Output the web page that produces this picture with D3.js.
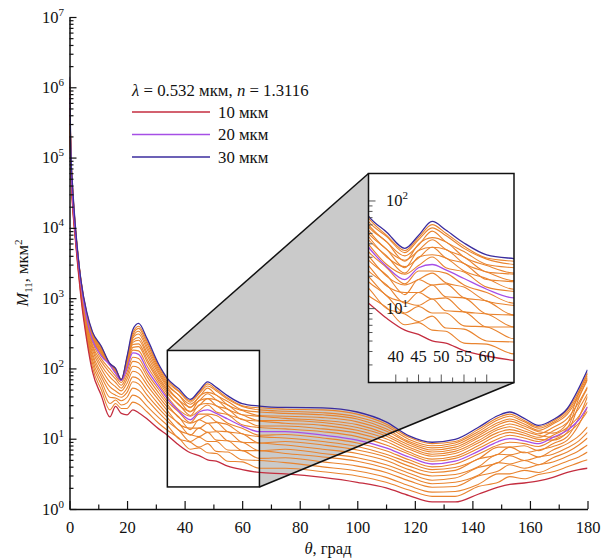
<!DOCTYPE html>
<html>
<meta charset="utf-8">
<script src="https://cdn.jsdelivr.net/npm/d3@7"></script>
<style>
    body {
        margin: 0;
        background: #fff;
    }

    svg text {
        font-family: 'Liberation Serif', serif;
        fill: #111;
    }
</style>

<body>
</body>
<script>
    // scattering angle grid, degrees
    const theta = [0, 0.5, 1, 2, 3, 4, 6, 8, 11, 14, 16, 18, 20, 22, 24, 27, 31, 34, 38, 42, 45, 48, 51, 55,
        60, 66, 75, 88, 100, 110, 118, 126, 134, 142, 149, 153, 158, 163, 168, 173, 177, 180];

    // log10 of M11 (mkm^2), one array per particle size
    const m10 = [5.3, 4.75, 4.35, 3.85, 3.4, 3.0, 2.4, 1.95, 1.62, 1.31, 1.46, 1.36, 1.34, 1.41, 1.37, 1.28, 1.14, 1.05, 0.91, 0.80, 0.76, 0.70, 0.68, 0.61, 0.56, 0.52, 0.50, 0.45, 0.38, 0.30, 0.19, 0.10, 0.10, 0.21, 0.31, 0.35, 0.37, 0.40, 0.45, 0.52, 0.56, 0.58];
    const m11 = [5.38, 4.78, 4.37, 3.86, 3.42, 3.03, 2.44, 2.01, 1.70, 1.41, 1.50, 1.43, 1.43, 1.52, 1.49, 1.38, 1.22, 1.12, 1.01, 0.85, 0.87, 0.80, 0.79, 0.68, 0.67, 0.58, 0.58, 0.53, 0.47, 0.38, 0.27, 0.18, 0.18, 0.32, 0.38, 0.46, 0.43, 0.49, 0.53, 0.60, 0.66, 0.70];
    const m12 = [5.44, 4.80, 4.39, 3.88, 3.44, 3.05, 2.48, 2.07, 1.77, 1.50, 1.55, 1.48, 1.51, 1.62, 1.59, 1.46, 1.30, 1.19, 1.00, 0.95, 0.88, 0.93, 0.82, 0.81, 0.70, 0.69, 0.66, 0.60, 0.54, 0.45, 0.33, 0.24, 0.25, 0.35, 0.50, 0.50, 0.55, 0.52, 0.60, 0.68, 0.74, 0.81];
    const m13 = [5.51, 4.83, 4.41, 3.89, 3.46, 3.08, 2.51, 2.12, 1.83, 1.59, 1.58, 1.54, 1.59, 1.72, 1.69, 1.55, 1.37, 1.25, 1.12, 0.96, 1.02, 0.96, 0.96, 0.84, 0.83, 0.72, 0.73, 0.67, 0.61, 0.52, 0.40, 0.31, 0.32, 0.47, 0.54, 0.63, 0.58, 0.63, 0.67, 0.75, 0.83, 0.91];
    const m14 = [5.57, 4.85, 4.42, 3.90, 3.47, 3.10, 2.55, 2.17, 1.89, 1.67, 1.62, 1.59, 1.66, 1.81, 1.78, 1.62, 1.43, 1.30, 1.12, 1.06, 1.03, 1.09, 0.98, 0.97, 0.83, 0.83, 0.79, 0.74, 0.68, 0.58, 0.46, 0.36, 0.38, 0.48, 0.66, 0.64, 0.69, 0.63, 0.73, 0.81, 0.91, 1.01];
    const m15 = [5.62, 4.87, 4.44, 3.91, 3.49, 3.12, 2.57, 2.21, 1.94, 1.74, 1.68, 1.63, 1.72, 1.88, 1.85, 1.69, 1.49, 1.35, 1.22, 1.05, 1.15, 1.09, 1.10, 0.97, 0.95, 0.83, 0.85, 0.79, 0.73, 0.63, 0.51, 0.41, 0.44, 0.59, 0.66, 0.76, 0.69, 0.74, 0.78, 0.87, 0.97, 1.09];
    const m16 = [5.67, 4.89, 4.45, 3.92, 3.50, 3.14, 2.60, 2.26, 2.00, 1.81, 1.74, 1.68, 1.79, 1.96, 1.93, 1.76, 1.55, 1.40, 1.21, 1.15, 1.15, 1.22, 1.11, 1.10, 0.95, 0.94, 0.91, 0.85, 0.79, 0.69, 0.56, 0.47, 0.49, 0.60, 0.78, 0.77, 0.81, 0.74, 0.84, 0.93, 1.04, 1.17];
    const m17 = [5.72, 4.90, 4.47, 3.93, 3.52, 3.15, 2.63, 2.30, 2.05, 1.88, 1.80, 1.72, 1.85, 2.03, 2.01, 1.82, 1.60, 1.45, 1.31, 1.13, 1.27, 1.22, 1.23, 1.10, 1.07, 0.94, 0.96, 0.91, 0.84, 0.74, 0.61, 0.52, 0.55, 0.71, 0.78, 0.88, 0.80, 0.84, 0.89, 0.98, 1.20, 1.45];
    const m18 = [5.77, 4.92, 4.48, 3.94, 3.53, 3.17, 2.66, 2.33, 2.10, 1.94, 1.85, 1.76, 1.90, 2.10, 2.08, 1.88, 1.65, 1.49, 1.30, 1.22, 1.27, 1.33, 1.24, 1.20, 1.07, 1.03, 1.01, 0.96, 0.89, 0.78, 0.66, 0.56, 0.59, 0.71, 0.88, 0.88, 0.90, 0.83, 0.93, 1.03, 1.30, 1.60];
    const m19 = [5.81, 4.94, 4.49, 3.94, 3.54, 3.19, 2.68, 2.37, 2.14, 1.99, 1.89, 1.80, 1.95, 2.16, 2.14, 1.93, 1.70, 1.53, 1.38, 1.23, 1.35, 1.35, 1.33, 1.22, 1.15, 1.05, 1.06, 1.01, 0.94, 0.83, 0.70, 0.60, 0.64, 0.78, 0.91, 0.95, 0.93, 0.89, 0.98, 1.08, 1.22, 1.39];
    const m20 = [5.85, 4.95, 4.5, 3.95, 3.55, 3.2, 2.7, 2.4, 2.18, 2.05, 1.93, 1.83, 2.0, 2.22, 2.2, 1.98, 1.74, 1.57, 1.39, 1.27, 1.38, 1.41, 1.36, 1.28, 1.18, 1.10, 1.10, 1.05, 0.98, 0.87, 0.74, 0.64, 0.68, 0.82, 0.96, 1.0, 0.97, 0.93, 1.02, 1.12, 1.27, 1.455];
    const m21 = [5.89, 4.96, 4.52, 3.96, 3.56, 3.21, 2.71, 2.41, 2.20, 2.05, 1.94, 1.83, 2.02, 2.26, 2.25, 2.03, 1.78, 1.60, 1.41, 1.32, 1.40, 1.48, 1.38, 1.34, 1.20, 1.16, 1.14, 1.10, 1.03, 0.91, 0.78, 0.68, 0.72, 0.86, 1.00, 1.05, 1.01, 0.96, 1.05, 1.16, 1.32, 1.52];
    const m22 = [5.92, 4.97, 4.54, 3.97, 3.56, 3.21, 2.72, 2.43, 2.21, 2.05, 1.95, 1.83, 2.04, 2.30, 2.31, 2.09, 1.82, 1.64, 1.49, 1.33, 1.48, 1.50, 1.47, 1.35, 1.28, 1.18, 1.18, 1.14, 1.08, 0.96, 0.81, 0.71, 0.75, 0.90, 1.05, 1.09, 1.05, 0.99, 0.98, 1.09, 1.48, 1.72];
    const m23 = [5.96, 4.99, 4.55, 3.99, 3.57, 3.22, 2.74, 2.44, 2.23, 2.06, 1.95, 1.83, 2.06, 2.34, 2.35, 2.13, 1.85, 1.67, 1.48, 1.39, 1.47, 1.57, 1.47, 1.42, 1.27, 1.25, 1.22, 1.19, 1.12, 1.00, 0.85, 0.75, 0.79, 0.94, 1.09, 1.13, 1.08, 1.02, 1.11, 1.23, 1.43, 1.64];
    const m24 = [5.99, 5.0, 4.57, 4.0, 3.57, 3.22, 2.75, 2.45, 2.24, 2.06, 1.96, 1.83, 2.08, 2.37, 2.40, 2.18, 1.88, 1.70, 1.55, 1.38, 1.54, 1.57, 1.55, 1.42, 1.34, 1.26, 1.26, 1.23, 1.16, 1.04, 0.88, 0.78, 0.82, 0.97, 1.13, 1.17, 1.11, 1.05, 1.02, 1.15, 1.58, 1.86];
    const m25 = [6.02, 5.0, 4.58, 4.0, 3.58, 3.23, 2.76, 2.47, 2.26, 2.06, 1.97, 1.84, 2.09, 2.40, 2.44, 2.22, 1.92, 1.73, 1.55, 1.45, 1.54, 1.64, 1.55, 1.48, 1.34, 1.32, 1.29, 1.26, 1.20, 1.07, 0.91, 0.81, 0.85, 1.01, 1.16, 1.21, 1.15, 1.07, 1.16, 1.29, 1.52, 1.74];
    const m26 = [6.05, 5.01, 4.60, 4.02, 3.58, 3.23, 2.77, 2.48, 2.27, 2.06, 1.98, 1.84, 2.11, 2.43, 2.49, 2.27, 1.95, 1.76, 1.62, 1.44, 1.60, 1.66, 1.62, 1.48, 1.40, 1.33, 1.32, 1.30, 1.24, 1.11, 0.94, 0.84, 0.88, 1.04, 1.20, 1.25, 1.18, 1.10, 1.08, 1.22, 1.66, 1.92];
    const m27 = [6.07, 5.02, 4.61, 4.02, 3.59, 3.24, 2.77, 2.49, 2.28, 2.06, 1.98, 1.84, 2.13, 2.45, 2.53, 2.31, 1.98, 1.78, 1.62, 1.49, 1.59, 1.72, 1.62, 1.53, 1.41, 1.38, 1.36, 1.34, 1.28, 1.14, 0.96, 0.87, 0.91, 1.07, 1.23, 1.28, 1.21, 1.12, 1.21, 1.35, 1.60, 1.84];
    const m28 = [6.10, 5.03, 4.62, 4.03, 3.59, 3.24, 2.78, 2.50, 2.30, 2.07, 1.99, 1.84, 2.15, 2.48, 2.57, 2.35, 2.01, 1.81, 1.67, 1.52, 1.64, 1.75, 1.68, 1.56, 1.46, 1.41, 1.39, 1.37, 1.31, 1.18, 0.99, 0.90, 0.94, 1.10, 1.27, 1.32, 1.24, 1.15, 1.23, 1.38, 1.64, 1.89];
    const m29 = [6.13, 5.04, 4.64, 4.04, 3.60, 3.25, 2.79, 2.51, 2.31, 2.07, 2.0, 1.84, 2.16, 2.51, 2.60, 2.38, 2.03, 1.84, 1.68, 1.54, 1.66, 1.78, 1.70, 1.58, 1.47, 1.44, 1.42, 1.41, 1.35, 1.21, 1.02, 0.93, 0.96, 1.13, 1.30, 1.35, 1.26, 1.17, 1.25, 1.41, 1.68, 1.94];
    const m30 = [6.15, 5.05, 4.65, 4.05, 3.6, 3.25, 2.8, 2.52, 2.32, 2.07, 2.0, 1.84, 2.17, 2.55, 2.64, 2.42, 2.06, 1.86, 1.71, 1.56, 1.68, 1.81, 1.73, 1.61, 1.50, 1.465, 1.445, 1.44, 1.38, 1.24, 1.04, 0.95, 0.99, 1.16, 1.33, 1.38, 1.29, 1.19, 1.27, 1.43, 1.72, 1.98];

    const sizes = [10, 11, 12, 13, 14, 15, 16, 17, 18, 19, 20, 21, 22, 23, 24, 25, 26, 27, 28, 29, 30];
    const series = [m10, m11, m12, m13, m14, m15, m16, m17, m18, m19, m20,
        m21, m22, m23, m24, m25, m26, m27, m28, m29, m30];
    const legendSizes = [10, 20, 30];
    const yPowers = [0, 1, 2, 3, 4, 5, 6, 7];
    const xTicks = [0, 20, 40, 60, 80, 100, 120, 140, 160, 180];
    const xMinor = [10, 30, 50, 70, 90, 110, 130, 150, 170];
    const insetXTicks = [40, 45, 50, 55, 60];
    const insetXMinor = [42.5, 47.5, 52.5, 57.5];
    const insetPowers = [1, 2];
    const zoomTheta = [34, 66];
    const zoomM = [2.06, 180];

    const width = 608,
        height = 559;
    const svg = d3.select("body").append("svg")
        .attr("width", width).attr("height", height)
        .attr("font-family", "'Liberation Serif', serif");

    const x = d3.scaleLinear().domain([0, 180]).range([69.5, 587.5]);
    const y = d3.scaleLog().domain([1, 1e7]).range([509, 17]);

    // inset box in pixels
    const ib = { x0: 368.5, y0: 173.5, x1: 514, y1: 382.5 };
    const ix = d3.scaleLinear().domain(zoomTheta).range([ib.x0, ib.x1]);
    const iy = d3.scaleLog().domain(zoomM).range([ib.y1, ib.y0]);

    const colour = d => d === 10 ? "#c42d3f" : d === 20 ? "#a64fe6" : d === 30 ? "#3b2d9e" : "#e9842f";
    const order = d3.range(sizes.length).sort((a, b) => {
        const ka = legendSizes.includes(sizes[a]) ? 1 : 0,
            kb = legendSizes.includes(sizes[b]) ? 1 : 0;
        return ka - kb || a - b;
    });

    // zoom box in data coordinates
    const bx0 = x(zoomTheta[0]),
        bx1 = x(zoomTheta[1]),
        by0 = y(zoomM[1]),
        by1 = y(zoomM[0]);

    svg.append("polygon")
        .attr("points", [
            [bx0, by0],
            [ib.x0, ib.y0],
            [ib.x1, ib.y0],
            [ib.x1, ib.y1],
            [bx1, by1],
            [bx0, by1]
        ].join(" "))
        .attr("fill", "#cacaca");
    svg.append("rect")
        .attr("x", bx0).attr("y", by0)
        .attr("width", bx1 - bx0).attr("height", by1 - by0)
        .attr("fill", "#fff");

    svg.append("clipPath").attr("id", "plot")
        .append("rect").attr("x", x(0)).attr("y", y(1e7)).attr("width", x(180) - x(0)).attr("height", y(1) - y(1e7));

    const line = d3.line()
        .x((v, i) => x(theta[i]))
        .y(v => y(Math.pow(10, v)))
        .curve(d3.curveMonotoneX);

    svg.append("g").attr("clip-path", "url(#plot)")
        .selectAll("path")
        .data(order)
        .join("path")
        .attr("fill", "none")
        .attr("stroke", i => colour(sizes[i]))
        .attr("stroke-width", i => legendSizes.includes(sizes[i]) ? 1.3 : 1.1)
        .attr("d", i => line(series[i]));

    // zoom box outline and connector lines
    svg.append("rect")
        .attr("x", bx0).attr("y", by0)
        .attr("width", bx1 - bx0).attr("height", by1 - by0)
        .attr("fill", "none").attr("stroke", "#111").attr("stroke-width", 1.5);
    svg.append("line").attr("x1", bx0).attr("y1", by0).attr("x2", ib.x0).attr("y2", ib.y0)
        .attr("stroke", "#111").attr("stroke-width", 1.5);
    svg.append("line").attr("x1", bx1).attr("y1", by1).attr("x2", ib.x1).attr("y2", ib.y1)
        .attr("stroke", "#111").attr("stroke-width", 1.5);

    // axes
    const minorY = [];
    yPowers.slice(0, -1).forEach(p => d3.range(2, 10).forEach(k => minorY.push(k * Math.pow(10, p))));

    const yAxis = svg.append("g").attr("transform", `translate(${x(0)},0)`);
    yAxis.call(d3.axisLeft(y).tickValues(yPowers.map(p => Math.pow(10, p))).tickSize(-7).tickSizeOuter(0).tickFormat(""));
    yAxis.append("g").call(d3.axisLeft(y).tickValues(minorY).tickSize(-4).tickSizeOuter(0).tickFormat(""))
        .select(".domain").remove();

    const xAxis = svg.append("g").attr("transform", `translate(0,${y(1)})`);
    xAxis.call(d3.axisBottom(x).tickValues(xTicks).tickSize(-8).tickSizeOuter(0).tickPadding(12));
    xAxis.append("g").call(d3.axisBottom(x).tickValues(xMinor).tickSize(-4.5).tickSizeOuter(0).tickFormat(""))
        .select(".domain").remove();

    svg.selectAll("g").attr("font-family", null);
    svg.selectAll(".domain").attr("stroke", "#111").attr("stroke-width", 1.5);
    svg.selectAll(".tick line").attr("stroke", "#111").attr("stroke-width", 1.2);
    xAxis.selectAll(".tick text")
        .attr("font-size", 16.5)
        .attr("fill", "#111");

    const yLab = svg.append("g").selectAll("text")
        .data(yPowers)
        .join("text")
        .attr("text-anchor", "end")
        .attr("x", 64)
        .attr("y", p => y(Math.pow(10, p)) + 5.5)
        .attr("font-size", 16.5);
    yLab.append("tspan").text("10");
    yLab.append("tspan").attr("dy", -7).attr("font-size", 11).text(p => p);

    // axis titles
    const yTitle = svg.append("text")
        .attr("transform", "translate(28,273) rotate(-90)")
        .attr("text-anchor", "middle")
        .attr("font-size", 16.5);
    yTitle.append("tspan").attr("font-style", "italic").text("M");
    yTitle.append("tspan").attr("font-size", 11).attr("dy", 4).text("11");
    yTitle.append("tspan").attr("dy", -4).text(", мкм");
    yTitle.append("tspan").attr("font-size", 11).attr("dy", -6).text("2");

    const xTitle = svg.append("text")
        .attr("x", 328).attr("y", 554)
        .attr("text-anchor", "middle")
        .attr("font-size", 16.5);
    xTitle.append("tspan").attr("font-style", "italic").text("θ");
    xTitle.append("tspan").text(", град");

    // legend
    const lt = svg.append("text").attr("x", 132).attr("y", 96).attr("font-size", 16.8);
    lt.append("tspan").attr("font-style", "italic").text("λ");
    lt.append("tspan").text(" = 0.532 мкм, ");
    lt.append("tspan").attr("font-style", "italic").text("n");
    lt.append("tspan").text(" = 1.3116");

    const lg = svg.append("g").selectAll("g")
        .data(legendSizes)
        .join("g")
        .attr("transform", (d, i) => `translate(132,${112 + i * 22.5})`);
    lg.append("line").attr("x1", 0).attr("x2", 78)
        .attr("stroke", d => colour(d)).attr("stroke-width", 1.5);
    lg.append("text").attr("x", 86).attr("y", 5.5).attr("font-size", 16.8).text(d => `${d} мкм`);

    // inset
    const inset = svg.append("g");
    inset.append("rect")
        .attr("x", ib.x0).attr("y", ib.y0)
        .attr("width", ib.x1 - ib.x0).attr("height", ib.y1 - ib.y0)
        .attr("fill", "#fff");
    svg.append("clipPath").attr("id", "inset")
        .append("rect").attr("x", ib.x0).attr("y", ib.y0).attr("width", ib.x1 - ib.x0).attr("height", ib.y1 - ib.y0);

    const iline = d3.line()
        .x((v, i) => ix(theta[i]))
        .y(v => iy(Math.pow(10, v)))
        .curve(d3.curveMonotoneX);

    inset.append("g").attr("clip-path", "url(#inset)")
        .selectAll("path")
        .data(order)
        .join("path")
        .attr("fill", "none")
        .attr("stroke", i => colour(sizes[i]))
        .attr("stroke-width", i => legendSizes.includes(sizes[i]) ? 1.3 : 1.1)
        .attr("d", i => iline(series[i]));

    const iyTicks = [3, 4, 5, 6, 7, 8, 9, 10, 20, 30, 40, 50, 60, 70, 80, 90, 100];
    inset.append("g").selectAll("line")
        .data(iyTicks)
        .join("line")
        .attr("x1", ib.x0)
        .attr("x2", d => ib.x0 + (d === 10 || d === 100 ? 7 : 4))
        .attr("y1", d => iy(d)).attr("y2", d => iy(d))
        .attr("stroke", "#555").attr("stroke-width", 1);
    inset.append("g").selectAll("line")
        .data(insetXTicks.concat(insetXMinor))
        .join("line")
        .attr("x1", d => ix(d)).attr("x2", d => ix(d))
        .attr("y1", ib.y1)
        .attr("y2", d => ib.y1 - (insetXTicks.includes(d) ? 8 : 5))
        .attr("stroke", "#555").attr("stroke-width", 1);

    inset.append("g").selectAll("text")
        .data(insetXTicks)
        .join("text")
        .attr("x", d => ix(d))
        .attr("y", 362)
        .attr("text-anchor", "middle")
        .attr("font-size", 16.5)
        .text(d => d);

    const iyLab = inset.append("g").selectAll("text")
        .data(insetPowers)
        .join("text")
        .attr("x", 386)
        .attr("y", p => iy(Math.pow(10, p)) + 5.5)
        .attr("font-size", 16.5);
    iyLab.append("tspan").text("10");
    iyLab.append("tspan").attr("dy", -7).attr("font-size", 11).text(p => p);

    inset.append("rect")
        .attr("x", ib.x0).attr("y", ib.y0)
        .attr("width", ib.x1 - ib.x0).attr("height", ib.y1 - ib.y0)
        .attr("fill", "none").attr("stroke", "#111").attr("stroke-width", 1.5);
</script>

</html>
